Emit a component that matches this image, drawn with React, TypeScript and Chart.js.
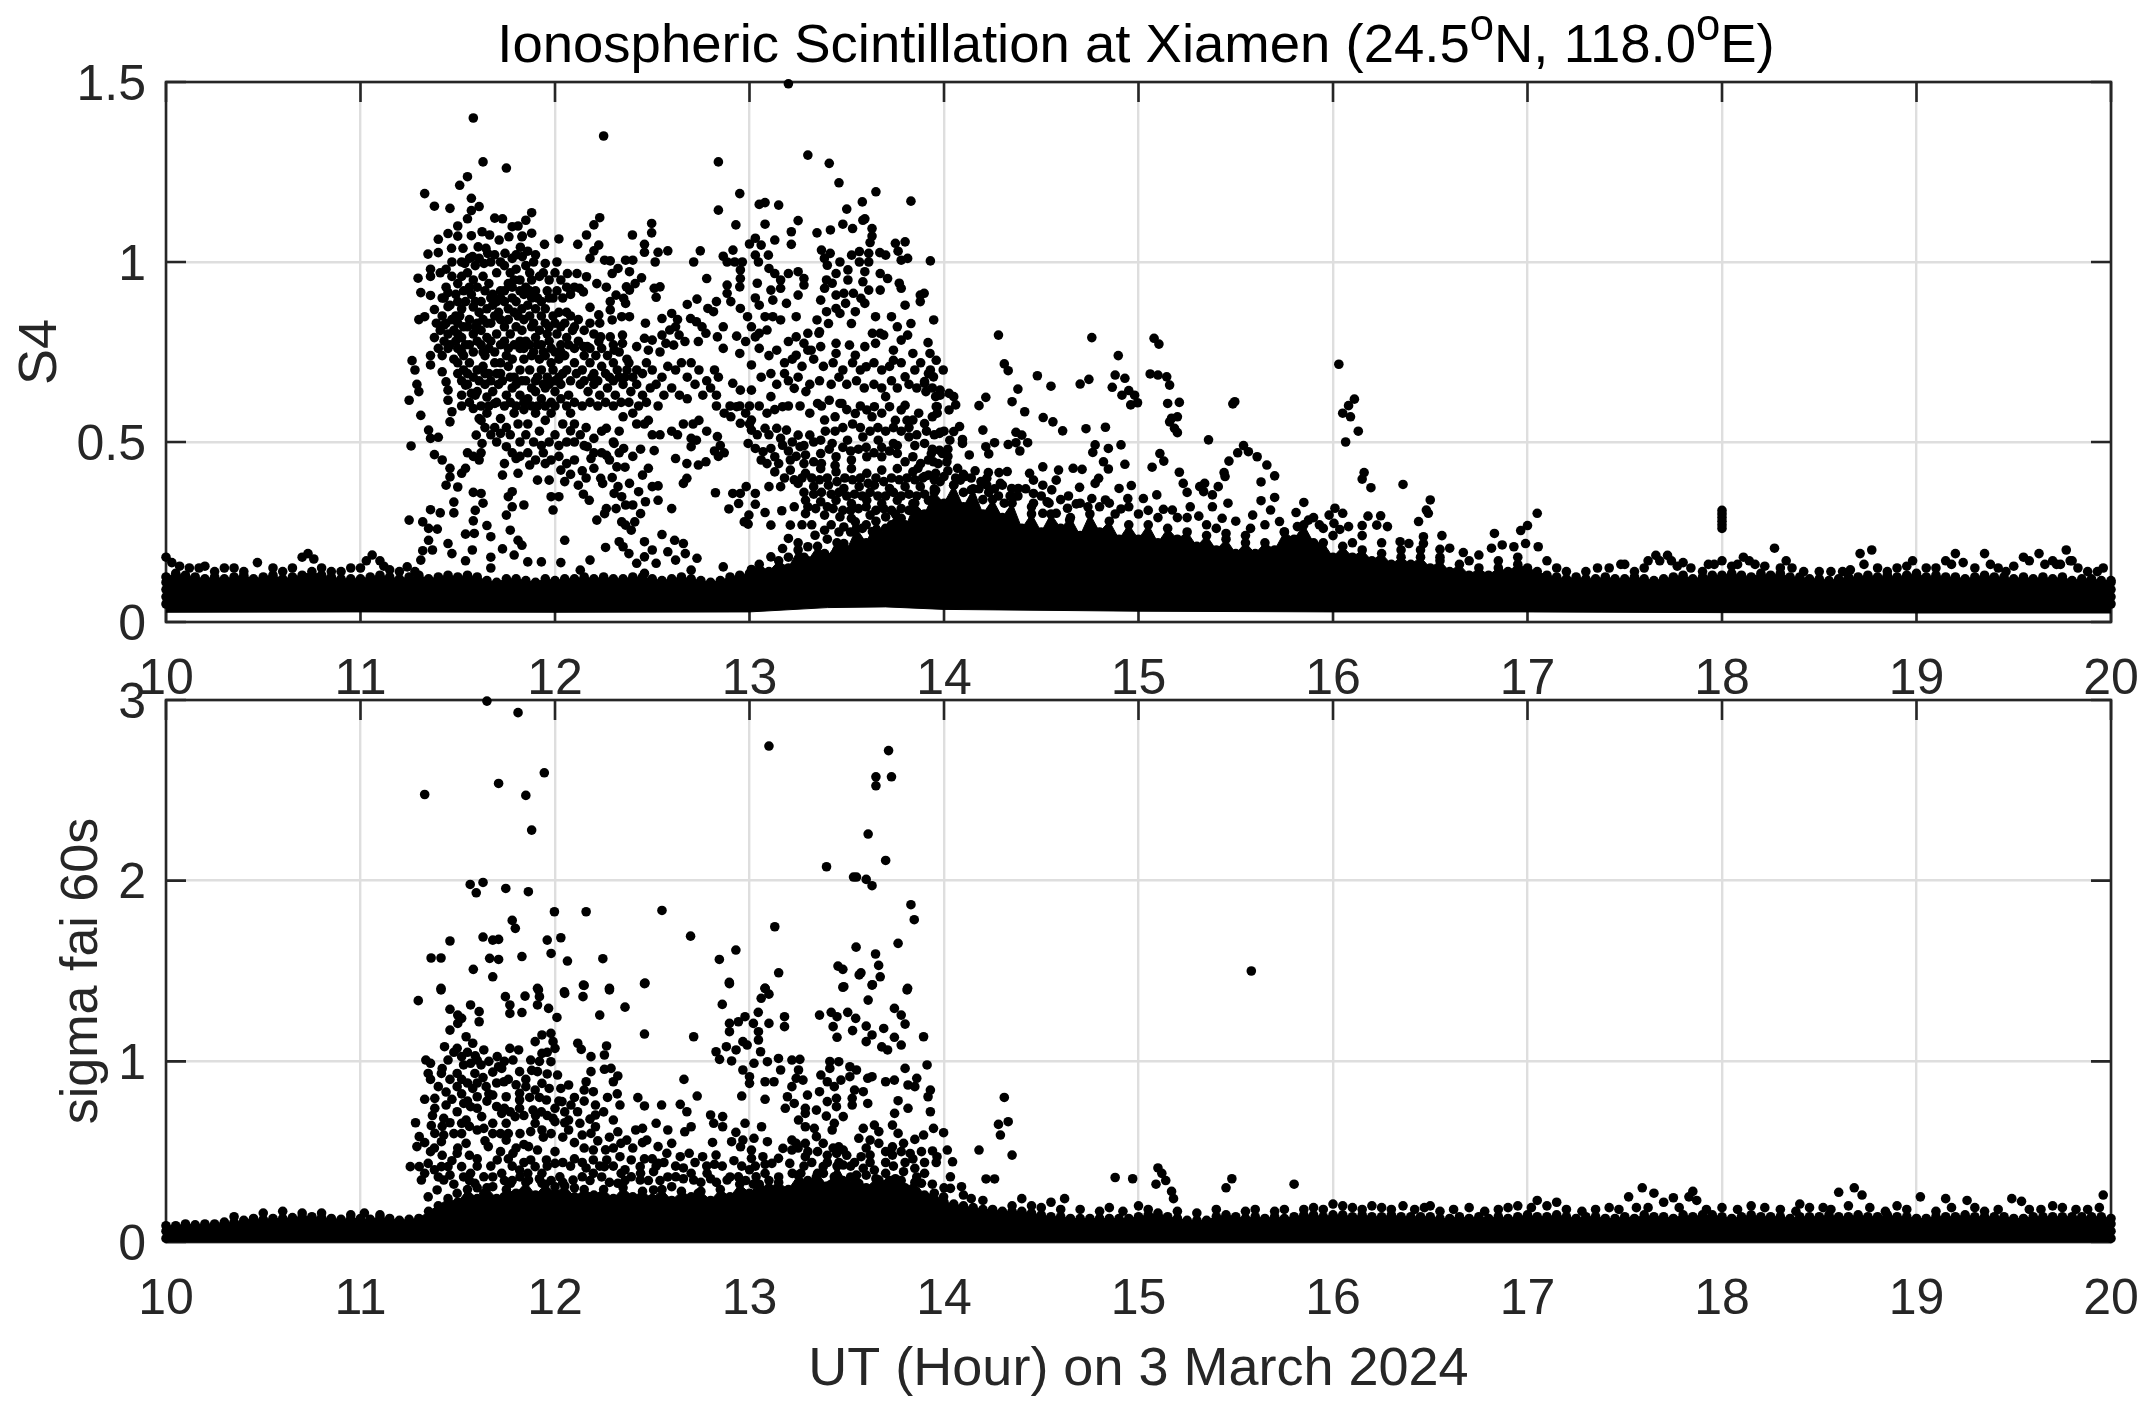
import React, { useEffect, useRef } from "react";
import { Chart, registerables } from "chart.js";

Chart.register(...registerables);

const TICK_HOURS = [10, 11, 12, 13, 14, 15, 16, 17, 18, 19, 20];

// grid of hours for the solid upper edge of the dense band
const bandHours = [
  10, 10.05, 10.1, 10.15, 10.2, 10.25, 10.3, 10.35, 10.4, 10.45, 10.5, 10.55, 10.6, 10.65, 10.7, 10.75, 10.8, 10.85, 10.9, 10.95,
  11, 11.05, 11.1, 11.15, 11.2, 11.25, 11.3, 11.35, 11.4, 11.45, 11.5, 11.55, 11.6, 11.65, 11.7, 11.75, 11.8, 11.85, 11.9, 11.95,
  12, 12.05, 12.1, 12.15, 12.2, 12.25, 12.3, 12.35, 12.4, 12.45, 12.5, 12.55, 12.6, 12.65, 12.7, 12.75, 12.8, 12.85, 12.9, 12.95,
  13, 13.05, 13.1, 13.15, 13.2, 13.25, 13.3, 13.35, 13.4, 13.45, 13.5, 13.55, 13.6, 13.65, 13.7, 13.75, 13.8, 13.85, 13.9, 13.95,
  14, 14.05, 14.1, 14.15, 14.2, 14.25, 14.3, 14.35, 14.4, 14.45, 14.5, 14.55, 14.6, 14.65, 14.7, 14.75, 14.8, 14.85, 14.9, 14.95,
  15, 15.05, 15.1, 15.15, 15.2, 15.25, 15.3, 15.35, 15.4, 15.45, 15.5, 15.55, 15.6, 15.65, 15.7, 15.75, 15.8, 15.85, 15.9, 15.95,
  16, 16.05, 16.1, 16.15, 16.2, 16.25, 16.3, 16.35, 16.4, 16.45, 16.5, 16.55, 16.6, 16.65, 16.7, 16.75, 16.8, 16.85, 16.9, 16.95,
  17, 17.05, 17.1, 17.15, 17.2, 17.25, 17.3, 17.35, 17.4, 17.45, 17.5, 17.55, 17.6, 17.65, 17.7, 17.75, 17.8, 17.85, 17.9, 17.95,
  18, 18.05, 18.1, 18.15, 18.2, 18.25, 18.3, 18.35, 18.4, 18.45, 18.5, 18.55, 18.6, 18.65, 18.7, 18.75, 18.8, 18.85, 18.9, 18.95,
  19, 19.05, 19.1, 19.15, 19.2, 19.25, 19.3, 19.35, 19.4, 19.45, 19.5, 19.55, 19.6, 19.65, 19.7, 19.75, 19.8, 19.85, 19.9, 19.95, 20,
];

const s4BandUpper = [
  .125,.135,.13,.125,.12,.125,.12,.125,.13,.12, .125,.13,.12,.125,.13,.14,.13,.125,.12,.12,
  .12,.125,.13,.125,.12,.125,.13,.12,.125,.13, .125,.13,.125,.115,.11,.12,.12,.115,.11,.12,
  .115,.12,.12,.125,.12,.125,.12,.12,.125,.125, .12,.115,.12,.125,.12,.115,.11,.115,.125,.13,
  .135,.16,.14,.17,.15,.2,.17,.21,.18,.22, .2,.26,.22,.28,.24,.3,.26,.33,.3,.36,
  .33,.38,.32,.37,.3,.34,.29,.33,.26,.3, .25,.3,.26,.29,.24,.3,.25,.28,.23,.27,
  .23,.27,.22,.26,.23,.25,.21,.24,.2,.23, .19,.22,.19,.22,.2,.25,.23,.27,.22,.22,
  .18,.21,.18,.2,.17,.19,.16,.18,.16,.18, .15,.17,.14,.16,.13,.15,.13,.15,.14,.16,
  .15,.14,.13,.125,.12,.125,.12,.12,.125,.12, .12,.125,.12,.115,.12,.125,.13,.12,.125,.13,
  .13,.135,.13,.125,.135,.13,.135,.125,.125,.12, .12,.115,.12,.125,.125,.13,.125,.13,.125,.13,
  .135,.125,.13,.125,.125,.12,.125,.13,.125,.125, .12,.125,.12,.125,.12,.125,.115,.12,.12,.115,.115,
];
const s4LowerHours = [10, 11, 12, 13, 13.4, 13.7, 14, 15, 16, 17, 18, 19, 20];
const s4BandLower = [.027, .028, .027, .028, .04, .042, .035, .03, .028, .028, .026, .025, .025];

const sigmaBandUpper = [
  .09,.09,.1,.095,.1,.1,.11,.11,.12,.13, .125,.13,.13,.135,.14,.14,.135,.13,.125,.13,
  .13,.125,.135,.13,.12,.125,.13,.17,.2,.24, .22,.29,.24,.3,.24,.29,.27,.33,.26,.32,
  .27,.31,.25,.29,.26,.29,.24,.3,.25,.28, .24,.29,.23,.28,.25,.28,.23,.29,.25,.32,
  .27,.32,.3,.33,.29,.37,.33,.38,.31,.42, .32,.37,.3,.35,.32,.35,.3,.33,.26,.27,
  .22,.21,.2,.19,.18,.18,.17,.17,.17,.16, .15,.14,.14,.13,.13,.13,.13,.13,.13,.13,
  .14,.15,.16,.14,.13,.12,.12,.12,.14,.15, .14,.13,.14,.13,.14,.13,.14,.15,.15,.14,
  .15,.15,.14,.15,.14,.14,.15,.14,.14,.14, .14,.13,.13,.14,.13,.14,.13,.14,.13,.14,
  .15,.14,.14,.15,.14,.13,.14,.14,.13,.13, .14,.13,.15,.14,.14,.13,.15,.14,.15,.15,
  .14,.13,.14,.15,.14,.14,.14,.13,.14,.14, .14,.15,.14,.14,.15,.14,.14,.15,.14,.14,
  .13,.13,.14,.14,.14,.15,.14,.14,.14,.14, .13,.13,.14,.14,.14,.14,.14,.14,.14,.14,.13,
];
const sigmaLowerHours = [10, 15, 20];
const sigmaBandLower = [0, 0, 0];

// S4 scatter values as hour,value pairs
const s4Edges = [10,.05,10,.07,10,.09,10,.11,20,.05,20,.07,20,.09,20,.11,
  10,.18,10.03,.165,10.07,.155,10.12,.15,10.17,.15,10.2,.155,10.35,.15,10.47,.165,10.7,.18,10.73,.19,10.76,.175,10.95,.15,11.03,.17,11.06,.186,11.1,.17,11.12,.155,11.24,.153,
  10.25,.14,10.3,.15,10.4,.14,10.55,.15,10.6,.14,10.65,.15,10.8,.15,10.85,.14,10.9,.14,11,.15,11.15,.145,11.2,.14,11.28,.14];
const s4Early = [11.33,1.19,11.38,1.155,11.46,1.149,11.4,1.063,11.45,1.079,11.5,1.1,11.5,1.072,11.347,1.022,11.4,1.026,11.468,1.038,11.527,1.038,
  11.296,.955,11.36,.98,11.36,.96,11.31,.915,11.36,.907,11.44,.93,11.45,.915,11.43,.9,11.38,.868,11.45,.876,11.3,.84,11.33,.848,
  11.265,.726,11.28,.7,11.29,.66,11.3,.64,11.25,.616,11.31,.574,11.35,.533,11.36,.51,11.4,.513,11.26,.489,11.38,.465,11.42,.45,11.46,.427,11.46,.403,11.44,.38,11.5,.375,11.58,.36,11.62,.357,11.63,.33,11.48,.333,11.48,.303,11.36,.312,11.41,.303,11.59,.31,11.25,.283,11.32,.278,11.35,.26,11.395,.258,11.58,.281,11.65,.268,11.54,.244,11.585,.246,11.67,.237,11.35,.227,11.32,.198,11.37,.2,11.45,.218,11.47,.19,11.54,.17,11.575,.2,11.67,.18,11.67,.15,11.31,.172,
  11.55,.47,11.58,.46,11.61,.45,11.62,.47,11.54,.427,11.52,.413,11.36,.714,11.42,.695,11.44,.667,11.45,.644,11.45,.616,11.54,.658,11.57,.635,11.52,.6,11.47,.584,11.46,.556,11.58,.593,11.61,.565,11.595,.519,11.625,.496,11.65,.625,11.69,.607,11.72,.565,11.72,.524,11.75,.487,11.74,.44,11.73,.408,
  11.38,.79,11.4,.76,11.36,.74,11.42,.74,11.45,.76,11.5,.76,11.48,.73,11.53,.74,11.56,.77,11.58,.75,11.62,.77,11.64,.74,11.66,.76,11.7,.8,11.72,.77,11.75,.74,11.77,.8,11.8,.82];
const s4Eleven = [11.55,1.237,11.51,1.213,11.57,1.177,11.61,1.154,11.57,1.143,11.55,1.12,11.88,1.137,11.69,1.122,11.73,1.12,11.85,1.116,11.81,1.1,11.78,1.098,11.88,1.08,11.83,1.07,
  11.58,1.4,11.63,1.278,11.75,1.261,11.57,1.073,11.625,1.084,11.664,1.075,11.713,1.061,11.763,1.07,11.832,1.072,11.605,1.042,11.645,1.038,11.576,1.015,11.536,.996,11.635,.996,11.654,1.024,11.743,1.024,11.822,1.041,11.832,1.015,11.89,1,11.95,.996,12.01,1,12.02,1.064,11.946,1.049,
  11.39,.83,11.41,.81,11.43,.825,11.45,.8,11.48,.81,11.5,.83,11.52,.79,11.55,.82,11.58,.8,11.6,.83,11.62,.81,11.65,.79,11.67,.83,11.49,.85,11.52,.87,11.54,.89,11.58,.875,11.61,.86,11.65,.87,11.68,.88,11.71,.86,11.74,.89,11.76,.87,11.78,.9,11.72,.92,11.76,.94,11.8,.89,11.83,.87,11.86,.88,11.88,.9,11.9,.87,11.93,.85,11.95,.87,11.97,.9,11.99,.85,12.02,.86,12.05,.83,12.08,.85,12.1,.82,11.47,.96,11.5,.94,11.53,.92,11.49,.91,11.52,.96,11.55,.97,11.58,.95,11.6,.93,11.63,.96,11.66,.94,11.68,.91,11.7,.97,11.74,.99,11.77,.97,11.8,.98,11.85,.99,11.87,.97,11.88,.95,11.92,.96,11.94,.97,11.97,.95,12,.97,12.03,.95,11.9,.92,11.85,.93,11.82,.95,
  11.83,.81,11.85,.78,11.88,.82,11.9,.79,11.93,.77,11.96,.8,11.98,.76,12.01,.8,12.03,.77,12.06,.79,11.82,.76,11.78,.73,11.72,.72,11.84,.73,11.88,.74,11.92,.73,11.95,.74,11.98,.72,12.02,.73,12.05,.74,12.1,.76,
  11.5,.72,11.53,.7,11.56,.72,11.6,.7,11.63,.71,11.66,.69,11.69,.72,11.72,.69,11.76,.71,11.79,.68,11.82,.7,11.85,.67,11.87,.7,11.9,.67,11.93,.7,11.96,.68,11.99,.7,
  11.55,.66,11.6,.64,11.64,.66,11.68,.64,11.71,.66,11.75,.63,11.78,.65,11.82,.63,11.86,.62,11.9,.64,11.93,.62,11.95,.65,11.98,.61,
  11.79,.58,11.81,.55,11.84,.59,11.86,.55,11.9,.58,11.92,.53,11.95,.56,11.98,.58,11.75,.54,11.62,.56,11.65,.58,11.69,.54,
  11.8,.454,11.81,.413,11.87,.436,11.95,.44,11.91,.394,11.97,.394,11.78,.362,11.76,.348,11.78,.32,11.84,.325,11.75,.297,11.77,.255,11.81,.227,11.83,.213,11.73,.203,11.79,.186,11.86,.167,11.93,.167,11.98,.348,11.99,.311];
const s4ElevenMore = [11.41,.97,11.44,.98,11.47,1,11.52,1,11.56,1.01,11.59,.99,11.61,1.01,11.67,1,11.69,1.02,11.72,1,11.78,1.01,11.8,1.02,11.86,1.03,11.9,1.02,
  11.42,.9,11.46,.88,11.5,.89,11.51,.85,11.56,.93,11.57,.91,11.59,.89,11.62,.89,11.64,.92,11.67,.9,11.7,.89,11.72,.9,11.74,.92,11.78,.93,11.79,.95,11.82,.92,11.84,.91,11.87,.92,11.91,.9,11.93,.89,11.96,.92,11.99,.9,12.01,.92,12.04,.9,12.06,.93,12.08,.91,12.1,.93,
  11.42,.85,11.44,.83,11.47,.84,11.5,.8,11.53,.82,11.56,.84,11.59,.82,11.63,.84,11.65,.83,11.69,.85,11.72,.84,11.74,.82,11.76,.84,11.79,.86,11.81,.85,11.84,.84,11.87,.85,11.89,.83,11.92,.81,11.95,.83,11.97,.82,12,.83,12.03,.82,12.06,.86,12.09,.81,12.12,.84,12.15,.81,12.18,.83,12.2,.8,
  11.43,.78,11.46,.77,11.49,.78,11.52,.75,11.54,.77,11.6,.78,11.63,.75,11.67,.78,11.69,.75,11.74,.78,11.76,.76,11.79,.77,11.82,.78,11.84,.76,11.87,.77,11.89,.75,11.91,.77,11.94,.75,11.97,.78,12,.75,12.03,.75,12.07,.77,12.12,.78,12.15,.74,12.18,.76,12.21,.74,12.24,.76,12.27,.74,12.3,.77,12.33,.75,12.37,.73,
  11.5,.69,11.52,.67,11.55,.69,11.58,.68,11.61,.67,11.64,.69,11.67,.67,11.7,.69,11.73,.67,11.77,.68,11.8,.66,11.83,.67,11.88,.65,11.91,.68,11.94,.66,11.97,.66,12,.67,12.04,.69,12.08,.67,12.11,.69,12.15,.67,12.19,.68,12.22,.67,12.26,.69,12.3,.67,12.33,.68,12.37,.7,12.4,.68,
  11.52,.63,11.56,.61,11.59,.63,11.62,.6,11.66,.6,11.7,.61,11.74,.6,11.77,.61,11.8,.6,11.84,.61,11.88,.6,11.91,.6,11.95,.6,12,.6,12.03,.62,12.06,.6,12.1,.61,12.14,.6,12.18,.61,12.22,.6,12.26,.61,12.3,.6,12.34,.61,12.38,.61,12.43,.6,12.47,.61,
  11.64,.54,11.67,.52,11.7,.5,11.77,.52,11.82,.5,11.85,.52,11.89,.5,11.93,.49,11.97,.5,12.02,.49,12.06,.5,12.1,.5,12.15,.49,12.2,.47,12.24,.47,12.28,.45,12.33,.47,12.36,.43,12.4,.46,12.44,.48,
  11.78,.47,11.82,.46,11.86,.47,11.9,.45,11.94,.47,11.98,.45,12.02,.46,12.06,.44,12.1,.45,12.14,.42,12.16,.4,12.12,.38,12.08,.41];
const s4Twelve = [12.25,1.35,12.117,1.049,12.162,1.075,12.2,1.103,12.23,1.123,12.225,1.047,12.2,1.031,12.18,1.01,12.255,1.005,12.284,1.003,12.363,1.005,12.4,1.005,12.398,1.075,12.497,1.107,12.497,1.081,12.46,1.049,12.46,1.027,12.53,1.027,12.58,1.031,12.515,1,12.324,.982,12.294,.968,12.383,.973,12.445,.956,12.412,.94,12.367,.931,12.383,.922,12.064,.968,12.113,.968,12.162,.959,12.215,.94,12.264,.93,12.127,.927,12.146,.917,12.54,.931,12.51,.927,12.52,.902,12.314,.908,12.284,.89,12.353,.899,12.363,.885,12.18,.874,12.225,.853,12.284,.867,12.23,.83,12.343,.848,12.294,.839,12.383,.848,12.465,.83,12.68,.882,12.73,.897,12.83,.89,12.786,.871,12.815,.862,12.55,.843,12.6,.857,12.63,.84,12.62,.82,12.59,.811,12.697,.843,12.727,.834,12.756,.82,12.776,.802,12.737,.779,12.638,.797,12.668,.779,12.55,.797,12.57,.774,12.61,.769,12.46,.788,12.5,.783,12.42,.765,12.48,.755,12.54,.75,12.347,.797,12.347,.774,12.304,.755,12.235,.792,12.284,.792,12.225,.779,12.146,.765,12.166,.765,
  12.02,.68,12.06,.7,12.1,.72,12.14,.7,12.18,.72,12.2,.69,12.24,.71,12.28,.68,12.3,.72,12.32,.7,12.36,.68,12.38,.72,12.42,.7,12.45,.69,12.47,.72,12.5,.7,12.52,.66,12.55,.68,12.58,.71,12.62,.7,12.65,.72,12.68,.68,12.7,.72,12.74,.7,12.78,.67,12.82,.7,12.84,.68,
  12,.64,12.03,.66,12.07,.63,12.13,.66,12.17,.64,12.2,.66,12.23,.63,12.27,.65,12.31,.63,12.35,.66,12.39,.64,12.42,.66,12.45,.63,12.49,.65,12.53,.6,12.56,.63,12.6,.65,12.64,.63,12.68,.62,12.72,.66,12.76,.63,12.8,.65,12.83,.63,
  12,.52,12.04,.55,12.08,.58,12.1,.55,12.08,.531,12.13,.52,12.16,.54,12.2,.51,12.24,.53,12.264,.538,12.3,.5,12.33,.53,12.35,.57,12.4,.58,12.42,.55,12.46,.55,12.48,.56,12.5,.52,12.54,.52,12.6,.53,12.63,.52,12.66,.55,12.7,.51,12.71,.55,12.74,.56,12.78,.53,12.83,.6,12.87,.58,12.9,.6,12.95,.6,12.98,.58,13,.6,13,.55,
  12.835,.515,12.85,.49,12.87,.47,12.84,.46,12.82,.475,12.727,.505,12.7,.487,12.62,.454,12.678,.44,12.737,.436,12.776,.445,12.678,.399,12.66,.385,12.51,.476,12.48,.427,12.45,.408,12.5,.376,12.53,.378,12.318,.431,12.265,.463,12.185,.454,12.2,.427,12.304,.496,12.353,.482,12.166,.487,12.235,.399,12.294,.401,12.245,.385,12.383,.385,12.324,.376,12.304,.357,12.343,.348,12.4,.325,12.363,.325,12.43,.362,12.465,.334,12.53,.338,12.6,.315,12.146,.355,12.176,.338,12.264,.315,12.314,.315,12.255,.301,12.215,.283,12.44,.301,12.41,.278,12.343,.278,12.392,.255,12.363,.269,
  12.03,.422,12.05,.39,12.02,.348,12.05,.227,12.03,.165,12.18,.172,12.13,.144,12.26,.207,12.33,.223,12.35,.209,12.38,.19,12.46,.223,12.55,.243,12.615,.227,12.66,.218,12.5,.2,12.46,.181,12.42,.163,12.46,.135,12.52,.163,12.58,.195,12.62,.172,12.67,.19,12.73,.177,12.7,.144,12.865,.153,
  12.84,1.278,12.95,1.19,12.84,1.144,12.93,1.103,12.915,1.033,12.865,1.016,12.747,1.031,12.713,1,12.885,1,12.924,1,12.963,1,12.953,.978,12.953,.954,12.95,.931,12.78,.954,12.885,.936,12.885,.913,12.904,.89,12.953,.871,12.99,.848,12.865,.82,12.835,.792,12.934,.794,12.98,.779,12.865,.76,12.95,.746,
  12.983,.376,12.914,.357,12.953,.357,12.944,.329,12.894,.314,12.997,.297,12.973,.278,12.993,.272,12.825,.359,12.953,.644,12.914,.663,12.934,.598,12.904,.57,12.953,.552,12.993,.496];
const s4Thirteen = [13.2,1.495,13.3,1.297,13.41,1.274,13.46,1.22,13.05,1.16,13.08,1.165,13.15,1.158,13.5,1.147,13.58,1.167,13.65,1.195,13.83,1.169,13.08,1.105,13.215,1.084,13.215,1.049,13.25,1.115,13.347,1.081,13.416,1.089,13.48,1.105,13.53,1.093,13.583,1.116,13.593,1.12,13.63,1.093,13.63,1.072,13.62,1.054,13.75,1.052,13.8,1.056,13.764,1.03,13.13,1.061,13.06,1.047,13,1.05,13.03,1.066,13.03,1.019,13.046,1,13.097,1.019,13.01,.82,13.03,.792,
  13.1,.982,13.13,.968,13.16,.95,13.16,.927,13.2,.968,13.25,.973,13.28,.954,13.28,.936,13.04,.941,13.03,.9,13.05,.88,13.11,.922,13.12,.894,13.19,.885,13.25,.908,13.08,.848,13.12,.848,13.16,.839,13.24,.848,13.09,.811,13.05,.802,13.24,.792,13.3,.802,13.36,.806,13.28,.774,13.3,.755,13.2,.779,13.14,.755,
  13.37,1.033,13.385,1.01,13.415,1.024,13.4,.991,13.465,1,13.525,1.019,13.565,1.029,13.565,1,13.613,1.024,13.613,1,13.67,1.026,13.7,1.019,13.78,1.005,13.813,1.01,13.93,1.003,
  13.506,.978,13.445,.968,13.506,.95,13.396,.95,13.425,.941,13.386,.927,13.593,.973,13.672,.968,13.71,.954,13.583,.945,13.613,.922,13.672,.922,13.77,.941,13.78,.927,13.445,.908,13.485,.913,13.534,.913,13.366,.894,13.396,.862,13.445,.871,13.494,.885,13.544,.862,13.593,.885,13.573,.899,13.465,.857,13.406,.829,13.347,.839,13.357,.802,13.524,.829,13.648,.848,13.73,.848,13.76,.82,13.83,.829,13.947,.839,13.8,.88,13.878,.908,13.898,.913,13.878,.89,13.648,.774,13.672,.802,13.69,.797,13.632,.802,13.78,.783,13.813,.797,13.918,.776,13.84,.746,13.928,.746,13.74,.755,13.593,.765,13.514,.769,13.544,.741,13.445,.774,13.445,.746,13.366,.765,13.317,.755,13.24,.741,
  13.01,.714,13.11,.69,13.18,.69,13.01,.644,13.11,.626,13.17,.598,13.23,.649,13.29,.64,13.35,.607,13.41,.616,13.475,.607,13.6,.709,13.74,.727,13.8,.681,13.9,.663,13.96,.727,13.7,.626,13.8,.602,13.98,.63,13.96,.598,13.92,.69,
  13.01,.561,13.01,.533,13.08,.538,13.14,.538,13.19,.533,13.25,.519,13.31,.519,13.386,.561,13.465,.607,13.544,.579,13.603,.589,13.642,.598,13.72,.598,13.78,.589,13.84,.561,13.9,.551,13.977,.524,
  13.03,.482,13.07,.473,13.11,.482,13.17,.491,13.26,.487,13.366,.505,13.425,.496,13.504,.505,13.583,.514,13.662,.505,13.74,.496,13.82,.514,13.9,.496,13.977,.477,
  13.06,.45,13.13,.459,13.21,.45,13.288,.464,13.366,.468,13.445,.459,13.524,.45,13.603,.459,13.68,.459,13.76,.468,13.84,.459,13.92,.45,
  13.13,.417,13.21,.422,13.288,.413,13.366,.426,13.445,.417,13.524,.426,13.603,.413,13.68,.422,13.76,.426,13.84,.417,13.92,.408,
  13.25,.385,13.33,.376,13.406,.38,13.485,.371,13.564,.376,13.642,.38,13.72,.371,13.8,.376,13.878,.376,13.957,.366,
  13.288,.338,13.366,.334,13.445,.338,13.524,.329,13.603,.338,13.68,.329,13.76,.338,13.84,.329,13.92,.338,
  13.23,.32,13.288,.301,13.386,.297,13.465,.292,13.524,.288,13.62,.297,13.7,.292,13.78,.288,13.9,.292,
  13.21,.269,13.2,.232,13.337,.241,13.386,.255,13.485,.264,13.544,.278,13.632,.251,13.67,.237,13.76,.237,13.3,.209,13.17,.204,13.11,.181,13.386,.19,13.485,.218,13.534,.19,13.603,.181,
  13.03,.357,13.03,.327,13.08,.304,13.166,.309,13.11,.269,13.1,.376,13.16,.376,13.01,.146,
  13.996,.7,13.946,.681,13.9,.668,13.907,.64,13.98,.644,13.957,.626,13.965,.598,13.965,.58,13.98,.527,13.935,.468,13.946,.445,13.992,.468,13.957,.413,13.866,.427,13.9,.404,13.95,.37];
const s4ThirteenMore = [13.05,.76,13.1,.74,13.18,.72,13.22,.73,13.27,.71,13.33,.73,13.38,.71,13.43,.72,13.48,.7,13.53,.72,13.57,.7,13.64,.72,13.68,.7,13.72,.71,13.78,.72,13.85,.7,13.88,.72,13.93,.7,
  13.06,.68,13.14,.66,13.2,.67,13.25,.68,13.31,.66,13.36,.67,13.42,.66,13.46,.68,13.5,.66,13.55,.67,13.59,.65,13.64,.66,13.68,.65,13.73,.67,13.76,.65,13.82,.66,13.86,.65,13.94,.65,
  13.05,.6,13.09,.58,13.13,.59,13.2,.6,13.26,.6,13.31,.58,13.37,.6,13.44,.57,13.5,.59,13.57,.6,13.63,.57,13.68,.58,13.75,.56,13.81,.56,13.87,.58,13.94,.57,
  13.04,.52,13.1,.52,13.16,.51,13.22,.5,13.28,.49,13.33,.5,13.39,.53,13.44,.53,13.48,.54,13.53,.55,13.57,.54,13.62,.53,13.66,.54,13.7,.53,13.74,.54,13.78,.53,13.82,.54,13.86,.52,13.91,.53,13.95,.52,14,.53,
  13.09,.44,13.15,.44,13.2,.475,13.24,.46,13.28,.44,13.33,.445,13.37,.44,13.41,.48,13.44,.435,13.48,.485,13.52,.475,13.56,.48,13.6,.485,13.64,.47,13.68,.485,13.72,.475,13.76,.49,13.8,.445,13.85,.49,13.88,.44,13.94,.48,13.97,.44,14.02,.48,
  13.18,.4,13.23,.395,13.27,.4,13.32,.4,13.36,.395,13.4,.4,13.45,.39,13.49,.4,13.53,.395,13.57,.4,13.61,.385,13.65,.4,13.69,.39,13.73,.4,13.77,.395,13.81,.4,13.85,.395,13.89,.4,13.95,.395,13.98,.39,
  13.28,.36,13.33,.355,13.37,.36,13.42,.355,13.46,.36,13.5,.35,13.54,.355,13.58,.35,13.62,.36,13.66,.35,13.7,.35,13.74,.36,13.78,.35,13.82,.355,13.86,.35,13.9,.355,13.94,.34,
  13.3,.32,13.34,.315,13.4,.32,13.43,.315,13.48,.31,13.52,.31,13.56,.315,13.6,.32,13.65,.31,13.69,.315,13.73,.31,13.78,.315,13.82,.31,13.86,.305,13.94,.31,
  13.27,.27,13.32,.27,13.42,.27,13.46,.25,13.52,.25,13.58,.26,13.6,.27,13.7,.26,13.73,.27,13.8,.27,13.85,.27,13.4,.23,13.45,.2,13.56,.22,13.62,.22,13.25,.22,13.2,.18,13.28,.18];
const s4Fourteen = [14.28,.797,14.76,.79,14.896,.74,14.31,.717,14.33,.698,14.48,.684,14.55,.655,14.7,.661,14.745,.674,14.88,.686,14.93,.677,14.865,.652,14.915,.63,14.95,.643,14.98,.63,14.995,.609,14.96,.603,14.38,.647,14.35,.612,14.215,.624,14.18,.601,14.415,.584,14.51,.568,14.56,.556,14.61,.531,14.73,.537,14.83,.541,
  14.026,.635,14.05,.626,14.06,.603,14.026,.589,14.2,.533,14.08,.543,14.05,.529,14.37,.527,14.4,.519,14.43,.498,14.37,.498,14.33,.493,14.26,.498,14.215,.487,14.23,.467,14.39,.475,14.095,.507,14.095,.496,14.03,.505,14.13,.464,14.777,.492,14.765,.471,14.845,.482,14.91,.492,14.82,.445,14.845,.425,14.93,.438,
  14.228,.415,14.283,.415,14.325,.418,14.22,.399,14.29,.385,14.348,.371,14.382,.371,14.36,.348,14.44,.413,14.46,.394,14.508,.38,14.508,.431,14.554,.367,14.589,.422,14.577,.394,14.664,.427,14.71,.424,14.697,.374,14.795,.399,14.777,.385,14.9,.371,14.963,.379,14.945,.343,14.83,.339,14.76,.343,14.68,.328,14.635,.316,14.53,.334,14.46,.357,14.45,.32,14.508,.302,14.577,.302,14.646,.283,14.91,.314,
  14.015,.445,14,.404,14.07,.427,14.107,.404,14.084,.394,14.14,.367,14.02,.46,14.16,.42,14.05,.38,14.19,.39,14.23,.36,14.1,.36,14.28,.35,14.2,.34,14.31,.33,
  14.02,.42,14.06,.4,14.1,.41,14.14,.4,14.18,.37,14.22,.38,14.26,.37,14.3,.38,14.34,.35,14.38,.35,14.42,.37,14.46,.33,14.5,.35,14.54,.33,14.6,.34,14.64,.35,14.7,.33,14.74,.32,14.8,.32,14.85,.33,14.88,.3,14.95,.32];
const s4Fifteen = [15.08,.788,15.105,.772,15.06,.689,15.1,.686,15.145,.681,15.16,.658,15.15,.607,15.21,.61,15.485,.606,15.495,.612,15.36,.506,15.17,.566,15.2,.57,15.16,.556,15.185,.538,15.2,.526,15.11,.468,15.13,.447,15.54,.49,15.51,.47,15.565,.473,15.61,.459,15.66,.436,15.7,.406,15.63,.389,15.465,.447,15.44,.415,15.445,.404,15.07,.43,15.21,.416,15.23,.385,15.25,.36,15.34,.385,15.315,.376,15.335,.362,15.41,.376,15.38,.353,15.46,.33,15.38,.32,15.7,.346,15.63,.337,15.85,.332,15.81,.304,15.98,.297,15.094,.353,15.025,.343,15.128,.313,15.266,.32,15.174,.311,15.31,.294,15.43,.288,15.587,.297,15.679,.311,15.725,.279,15.4,.26,15.45,.246,15.576,.26,15.817,.265,15.874,.283,15.93,.27,
  15,.3,15.05,.31,15.1,.29,15.2,.29,15.25,.29,15.35,.27,15.5,.28,15.55,.24,15.65,.27,15.75,.25,15.9,.29,15.95,.26];
const s4Sixteen = [16.03,.716,16.11,.619,16.08,.601,16.05,.58,16.09,.57,16.13,.53,16.065,.5,16.16,.415,16.15,.397,16.195,.373,16.36,.382,16.5,.339,16.48,.311,16.49,.302,16.44,.279,16.465,.237,16.465,.218,17.05,.302,17,.268,16.965,.254,16.83,.246,16.01,.316,16.05,.302,16.005,.274,16.035,.257,16.08,.265,16.18,.294,16.245,.295,16.15,.268,16.225,.269,16.28,.265,16.56,.24,16.6,.205,16.55,.202,16.345,.223,16.39,.218,16.67,.193,16.75,.186,16.815,.205,16.87,.214,16.93,.209,16.99,.218,17.055,.209,16.95,.18,
  16,.24,16.1,.22,16.15,.24,16.25,.22,16.35,.2,16.45,.2,16.55,.18,16.7,.17,16.85,.17,17.1,.17];
const s4Late = [18,.31,18,.3,18,.29,18,.28,18,.27,18,.26,18.27,.205,18.71,.19,18.77,.2,18.98,.17,19.2,.19,19.15,.17,19.35,.19,19.63,.19,19.77,.2,19.55,.18,17.66,.185,17.72,.185,17.8,.165,17.48,.16,17.93,.16,18.11,.18,18.33,.17,18,.17,19.8,.17,19.72,.16,
  17.15,.15,17.2,.14,17.3,.14,17.36,.15,17.42,.15,17.5,.16,17.55,.14,17.6,.15,17.62,.17,17.68,.17,17.74,.17,17.77,.155,17.84,.15,17.9,.14,17.96,.16,18.05,.155,18.08,.16,18.14,.17,18.17,.16,18.22,.155,18.3,.15,18.36,.15,18.42,.14,18.5,.14,18.56,.14,18.62,.14,18.66,.145,18.73,.16,18.8,.15,18.85,.14,18.9,.15,18.95,.155,19.05,.15,19.1,.15,19.18,.16,19.24,.165,19.3,.15,19.38,.16,19.42,.15,19.46,.14,19.5,.155,19.58,.17,19.66,.16,19.7,.17,19.74,.16,19.79,.17,19.83,.15,19.88,.14,19.93,.14,19.96,.15];

// sigma fai 60s scatter values as hour,value pairs
const sigmaEdges = [10,.02,10,.06,20,.02,20,.06,20,.1,
  10.35,.14,10.5,.16,10.6,.17,10.7,.16,10.8,.16,10.95,.15,11.02,.16,11.1,.15];
const sigmaTop = [11.65,2.994,11.81,2.93,13.1,2.745,13.715,2.72,13.65,2.575,13.73,2.575,13.65,2.525,11.33,2.477,11.71,2.538,11.85,2.472,11.945,2.597,11.88,2.28,13.61,2.258,13.7,2.112,13.396,2.077,13.535,2.02,13.55,2.02,13.6,2.007,13.63,1.972,11.564,1.979,11.63,1.99,11.595,1.933,11.747,1.957,11.863,1.939,11.997,1.828,12.16,1.828,12.55,1.835,13.83,1.867,13.847,1.784,11.78,1.78,11.796,1.736,13.13,1.745,12.697,1.693,11.46,1.666,11.63,1.688,11.68,1.671,11.71,1.675,11.96,1.671,12.03,1.684,13.764,1.653,13.548,1.632,13.648,1.594,12.93,1.616,12.845,1.564,11.363,1.572,11.414,1.572,11.664,1.57,11.71,1.564,11.83,1.58,11.98,1.597,12.064,1.555,12.246,1.568,13.664,1.531,13.455,1.527,13.48,1.509,13.15,1.49,13.573,1.49,13.564,1.478,13.672,1.468,11.58,1.509,11.68,1.468,12.463,1.433,12.896,1.437,13.632,1.424,13.485,1.413,12.146,1.422,11.414,1.404,11.91,1.404,12.28,1.404,13.08,1.404,13.813,1.404,12.048,1.385,15.58,1.5];
const sigmaLeft = [11.297,1.336,11.414,1.395,11.745,1.358,11.846,1.361,11.915,1.395,11.92,1.358,11.91,1.312,11.768,1.312,11.768,1.265,11.83,1.27,11.967,1.293,12.05,1.376,12.144,1.358,12.15,1.42,12.28,1.395,12.46,1.43,12.36,1.3,12.23,1.256,12.01,1.243,11.46,1.288,11.5,1.256,11.52,1.238,11.5,1.21,11.46,1.173,11.566,1.312,11.61,1.275,11.61,1.219,12.46,1.151,12.713,1.136,
  11.543,1.136,11.577,1.1,11.634,1.063,11.497,1.072,11.432,1.081,11.52,1.026,11.6,1.007,11.566,.989,11.45,1.007,11.336,1.007,11.36,.989,11.348,.933,11.416,.933,11.497,.933,11.497,.86,11.588,.933,11.577,.85,11.646,.86,11.703,1.026,11.768,1.072,11.813,1.063,11.784,1.007,11.726,.961,11.738,.887,11.818,.943,11.875,1.007,11.898,1.109,11.933,1.146,11.933,1.044,11.979,1.155,11.99,1.109,12,1.072,11.979,.998,11.91,.943,12.013,.924,11.933,.878,11.898,.841,11.818,.823,12.07,.869,12.117,1.1,12.135,1.066,12.265,1.085,12.185,1.026,12.254,1.035,12.15,.841,12.197,.832,12.16,.887,12.185,.943,12.254,.956,12.288,.961,12.323,.919,12.3,.887,
  11.33,.79,11.382,.795,11.382,.74,11.44,.758,11.497,.721,11.428,.684,11.283,.66,11.364,.644,11.382,.601,11.428,.592,11.416,.555,11.302,.583,11.29,.528,11.36,.5,11.348,.435,11.256,.417,11.302,.417,11.313,.343,11.416,.417,11.394,.288,11.348,.25,
  11.531,.767,11.566,.749,11.543,.675,11.52,.657,11.623,.694,11.6,.804,11.68,.813,11.749,.804,11.818,.786,11.956,.786,11.818,.74,11.887,.73,11.726,.712,11.795,.694,11.749,.657,11.68,.657,11.634,.629,11.898,.657,11.933,.62,11.875,.611,11.99,.684,
  12.036,.777,12.082,.758,12.116,.721,12.128,.657,12.07,.675,12.07,.62,12,.666,12.14,.592,12.208,.758,12.208,.703,12.208,.638,12.185,.601,12.3,.675,12.334,.758,12.426,.799,12.46,.753,12.548,.758,12.644,.762,12.678,.721,12.731,.808,12.663,.9,12.52,.657,12.58,.62,12.7,.638,12.667,.61,12.323,.61,12.415,.62,12.45,.629,12.369,.564,12.472,.564,12.53,.528,12.6,.546,12.339,.546,
  11.864,.528,11.91,.509,11.875,.454,11.898,.417,11.956,.454,12,.435,11.784,.491,11.749,.564,11.703,.454,11.657,.528,11.543,.546,11.497,.491,11.45,.417,11.52,.417,11.566,.38,11.634,.361,11.726,.38,11.818,.398,11.933,.38,12.025,.361,12,.306,11.933,.325,11.864,.343,11.772,.325,11.68,.306,11.588,.325,11.497,.269,11.428,.343,11.634,.269,11.738,.25,12.093,.343,12.14,.361,12.197,.38,12.266,.454,12.197,.509,12.197,.454,12.254,.417,12.334,.472,12.392,.454,12.438,.417,12.392,.361,12.323,.325,12.438,.343,12.507,.389,12.53,.435,12.575,.491,12.644,.472,12.69,.491,12.759,.472,12.828,.481,12.621,.361,12.713,.343,12.782,.38,12.885,.343,12.943,.361,12.507,.288,12.6,.306,12.736,.269];
const sigmaLeftMore = [11.42,.96,11.46,.9,11.53,.98,11.55,1.05,11.59,1.03,11.62,.98,11.66,1,11.68,.94,11.71,.97,11.74,1,11.48,1.05,11.52,.9,11.55,.88,11.6,.88,11.63,.91,11.66,.82,11.7,.88,11.76,.9,11.8,.87,11.85,.9,11.88,.95,11.92,1,11.96,1.05,11.96,.93,11.85,.86,11.87,.8,11.92,.8,11.97,.85,12.03,.85,12.02,.78,12.1,.8,12.15,.78,12.05,.72,12.18,.68,12.25,.72,12.27,.8,12.32,.82,
  11.36,.9,11.4,.86,11.44,.83,11.47,.79,11.52,.82,11.55,.78,11.6,.74,11.65,.78,11.7,.75,11.74,.74,11.77,.72,11.84,.7,11.9,.7,11.93,.72,11.96,.7,12,.74,12.05,.66,
  11.37,.7,11.42,.64,11.46,.66,11.48,.6,11.52,.6,11.56,.64,11.6,.62,11.64,.56,11.68,.6,11.72,.6,11.76,.6,11.82,.6,11.84,.54,11.8,.52,11.94,.58,11.98,.6,12.04,.58,12.1,.55,12.15,.52,12.22,.56,12.28,.58,12.3,.52,12.26,.51,12.4,.52,12.45,.55,
  11.33,.55,11.38,.52,11.42,.48,11.47,.45,11.5,.52,11.56,.48,11.6,.46,11.6,.42,11.67,.42,11.72,.5,11.76,.46,11.78,.42,11.84,.44,11.96,.42,12,.5,12.04,.44,12.08,.42,12.1,.46,12.14,.44,12.16,.41,12.23,.42,12.3,.42,12.36,.4,12.46,.46,12.5,.46,12.52,.42,12.56,.44,12.62,.42,12.66,.41,12.72,.44,12.78,.42,12.82,.43,12.86,.42,12.92,.45,12.96,.42,13,.4,13.03,.42,13.08,.43,
  11.33,.38,11.38,.4,11.4,.36,11.46,.37,11.48,.32,11.53,.36,11.56,.34,11.6,.3,11.68,.36,11.74,.34,11.78,.34,11.82,.36,11.86,.38,11.92,.35,11.98,.34,12.04,.33,12.1,.3,12.18,.34,12.24,.36,12.28,.33,12.34,.38,12.36,.34,12.44,.38,12.48,.34,12.54,.34,12.58,.36,12.66,.35,12.7,.38,12.75,.33,12.8,.35,12.83,.33,12.9,.36,12.98,.34,13.02,.32,13.1,.34,13.15,.36,13.22,.38,13.3,.34,13.38,.38,13.42,.32,13.48,.34,13.52,.36,13.6,.37,13.7,.38,13.72,.34,13.78,.34,13.86,.36,13.94,.32,14,.3,14.1,.26,14.14,.24,14.2,.23,
  13.25,.52,13.3,.5,13.35,.5,13.4,.48,13.43,.52,13.5,.48,13.54,.44,13.6,.52,13.7,.5,13.78,.5,13.84,.46,13.9,.44,13.96,.44,13.28,.42,13.32,.44,13.4,.44,13.46,.44,13.52,.42,13.62,.44,13.7,.44,13.74,.42,13.8,.44,13.9,.38];
const sigmaRight = [12.897,1.43,12.86,1.315,13.08,1.404,13.1,1.372,13.06,1.349,13.48,1.41,13.63,1.422,13.61,1.339,13.81,1.395,13.045,1.271,12.977,1.247,12.943,1.219,12.897,1.21,12.897,1.164,13.02,1.21,13.046,1.164,13.1,1.21,13.18,1.247,13.18,1.192,13.36,1.256,13.42,1.271,13.45,1.247,13.505,1.271,13.546,1.238,13.43,1.192,13.53,1.17,13.6,1.195,13.45,1.133,13.6,1.109,13.63,1.146,13.69,1.182,13.745,1.293,13.78,1.256,13.8,1.206,13.745,1.133,13.78,1.09,13.895,1.136,13.68,1.08,13.71,1.063,
  12.8,.703,12.862,.694,12.862,.638,12.816,.657,12.977,.657,13.062,.638,12.93,.607,12.908,.555,12.966,.564,12.954,.527,12.81,.551,13.023,.574,13.092,.555,13.01,.509,13.01,.463,13.069,.472,12.96,.808,13.08,.79,13.08,.887,13.126,.887,12.828,1.053,12.846,1.011,12.908,1.002,12.988,1.09,12.966,1.109,13.046,1.118,13.057,1.053,13.023,.989,12.966,.952,13,.915,13,.878,13.092,.998,13.149,1.016,12.881,1.081,12.931,1.063,
  13.16,.952,13.218,1.007,13.259,1.011,13.252,.952,13.24,.906,13.275,.896,13.218,.86,13.298,.813,13.195,.804,13.23,.767,13.184,.74,13.287,.74,13.287,.712,13.344,.73,13.395,.697,13.252,.675,13.287,.638,13.333,.629,13.36,.832,13.4,.777,13.447,.795,13.447,.749,13.413,.999,13.459,.998,13.413,.961,13.367,.924,13.4,.887,13.436,.86,13.516,.97,13.55,.952,13.516,.915,13.47,.896,13.608,.906,13.63,.915,13.7,.887,13.745,.896,13.815,.869,13.85,.86,13.8,.961,13.86,.906,13.913,.98,
  13.54,.841,13.585,.832,13.528,.795,13.528,.758,13.608,.767,13.93,.841,13.918,.804,13.764,.782,13.815,.74,13.93,.721,13.746,.712,13.482,.694,13.436,.657,13.425,.62,13.585,.629,13.642,.647,13.665,.611,13.562,.574,13.62,.564,13.665,.546,13.735,.647,13.764,.601,13.85,.568,13.895,.592,13.946,.629,13.998,.605,
  13.344,.583,13.287,.546,13.24,.546,13.218,.564,13.379,.546,13.459,.527,13.482,.509,13.448,.49,13.735,.527,13.792,.546,13.735,.481,13.826,.49,13.884,.5,13.941,.504,14.017,.509,13.964,.472,14.044,.444,13.574,.472,13.62,.481,13.585,.408,13.642,.398,
  13.85,.408,13.884,.325,13.792,.389,14.033,.361,14.033,.297,14.09,.306,13.482,.426,13.379,.417,13.287,.472,13.218,.509,13.172,.518,13.149,.463,13.115,.435,13.207,.435,13.264,.38,13.344,.361,13.436,.361,13.562,.324,13.665,.343,13.746,.324,13.815,.278,13.93,.241,13.998,.25,13.034,.361,13.08,.38];
const sigmaLate = [14.31,.8,14.28,.651,14.33,.666,14.29,.592,14.35,.481,14.18,.509,14.216,.349,14.26,.349,14.88,.357,14.97,.35,15.1,.41,15.12,.38,15.14,.34,15.09,.32,15.17,.28,15.18,.24,15.48,.35,15.45,.3,15.8,.32,14.55,.22,14.62,.24,14.4,.24,17.59,.3,17.52,.25,17.65,.27,17.75,.245,17.7,.22,17.85,.28,17.83,.25,17.87,.23,18.6,.275,18.68,.3,18.72,.26,19.02,.25,19.26,.23,19.15,.24,19.49,.24,19.54,.225,19.96,.26,17.05,.23,17.15,.22,16.95,.2,16.5,.2,16.2,.2,16,.21,18.9,.2,18.4,.21,19.7,.2,
  14.35,.2,14.45,.2,14.5,.19,14.6,.18,14.7,.18,14.8,.17,14.85,.19,14.92,.17,15,.2,15.05,.18,15.2,.17,15.3,.16,15.4,.18,15.55,.17,15.6,.18,15.7,.17,15.75,.18,15.85,.18,15.9,.19,15.95,.18,16.05,.2,16.1,.19,16.15,.18,16.25,.19,16.3,.18,16.36,.2,16.42,.18,16.47,.19,16.55,.17,16.62,.18,16.7,.19,16.78,.17,16.85,.18,16.9,.19,17.02,.19,17.1,.2,17.2,.18,17.28,.17,17.35,.18,17.42,.19,17.47,.18,17.56,.19,17.62,.19,17.78,.19,17.92,.18,18,.19,18.08,.18,18.15,.2,18.22,.19,18.3,.18,18.38,.17,18.45,.19,18.52,.19,18.56,.18,18.65,.2,18.76,.19,18.84,.17,18.95,.18,19.1,.17,19.18,.19,19.3,.19,19.35,.17,19.42,.18,19.58,.18,19.64,.18,19.75,.19,19.82,.18,19.88,.18,19.94,.19];

const s4Scatter = [...s4Edges, ...s4Early, ...s4Eleven, ...s4ElevenMore, ...s4Twelve, ...s4Thirteen, ...s4ThirteenMore, ...s4Fourteen, ...s4Fifteen, ...s4Sixteen, ...s4Late];
const sigmaScatter = [...sigmaEdges, ...sigmaTop, ...sigmaLeft, ...sigmaLeftMore, ...sigmaRight, ...sigmaLate];

const FONT = '"Liberation Sans", Arial, sans-serif';
const INK = "#262626";
const DOT = 4.8;

function fromPairs(flat: number[]) {
  const out: { x: number; y: number }[] = [];
  for (let i = 0; i + 1 < flat.length; i += 2) out.push({ x: flat[i], y: flat[i + 1] });
  return out;
}
function zipXY(xs: number[], ys: number[]) {
  return xs.map((x, i) => ({ x, y: ys[i] }));
}

const frame = {
  id: "frame",
  beforeDatasetsDraw(chart: any) {
    const { ctx, chartArea: a, scales } = chart;
    ctx.save();
    ctx.strokeStyle = INK;
    ctx.lineWidth = 2.6;
    ctx.strokeRect(a.left, a.top, a.right - a.left, a.bottom - a.top);
    ctx.beginPath();
    const len = 20;
    for (const t of scales.x.ticks) {
      const p = scales.x.getPixelForValue(t.value);
      ctx.moveTo(p, a.top);
      ctx.lineTo(p, a.top + len);
      ctx.moveTo(p, a.bottom);
      ctx.lineTo(p, a.bottom - len);
    }
    for (const t of scales.y.ticks) {
      const p = scales.y.getPixelForValue(t.value);
      ctx.moveTo(a.left, p);
      ctx.lineTo(a.left + len, p);
      ctx.moveTo(a.right, p);
      ctx.lineTo(a.right - len, p);
    }
    ctx.stroke();
    ctx.restore();
  },
};

function zeroPad(s: any) {
  s.paddingLeft = 0;
  s.paddingRight = 0;
  s.paddingTop = 0;
  s.paddingBottom = 0;
}

function panelConfig(p: {
  upper: number[]; lowerX: number[]; lower: number[]; scatter: number[];
  yMax: number; yStep: number; yTitle: string; yTitleSize: number; yTitlePad: number;
  padTop: number; bottomH: number; xTitle?: string;
}) {
  return {
    type: "line",
    plugins: [frame],
    data: {
      datasets: [
        { data: zipXY(bandHours, p.upper), borderColor: "#000", borderWidth: 1, backgroundColor: "#000", pointBackgroundColor: "#000", pointBorderWidth: 0, pointRadius: DOT, fill: "+1", clip: false, tension: 0 },
        { data: zipXY(p.lowerX, p.lower), borderColor: "#000", borderWidth: 1, pointRadius: 0, fill: false, clip: false, tension: 0 },
        { data: fromPairs(p.scatter), showLine: false, pointBackgroundColor: "#000", pointBorderWidth: 0, pointRadius: DOT, clip: false },
      ],
    },
    options: {
      animation: false,
      responsive: false,
      events: [],
      layout: { padding: { top: p.padTop, left: 0, right: 41, bottom: 0 } },
      plugins: { legend: { display: false }, title: { display: false }, tooltip: { enabled: false } },
      scales: {
        x: {
          type: "linear", min: 10, max: 20,
          afterBuildTicks: (s: any) => { s.ticks = TICK_HOURS.map((value) => ({ value })); },
          afterFit: (s: any) => { s.height = p.bottomH; zeroPad(s); },
          grid: { color: "#dedede", lineWidth: 2.4, drawTicks: false },
          border: { display: false },
          ticks: { color: INK, font: { family: FONT, size: 50 }, padding: 28, maxRotation: 0, autoSkip: false, callback: (v: any) => String(v) },
          title: p.xTitle ? { display: true, text: p.xTitle, color: INK, font: { family: FONT, size: 54 }, padding: { top: 2, bottom: 2 } } : { display: false },
        },
        y: {
          type: "linear", min: 0, max: p.yMax,
          ticks: { stepSize: p.yStep, color: INK, font: { family: FONT, size: 50 }, padding: 20, labelOffset: 4, callback: (v: any) => String(v) },
          afterFit: (s: any) => { s.width = 166; zeroPad(s); },
          grid: { color: "#dedede", lineWidth: 2.4, drawTicks: false },
          border: { display: false },
          title: { display: true, text: p.yTitle, color: INK, font: { family: FONT, size: p.yTitleSize }, padding: { top: p.yTitlePad, bottom: 0 } },
        },
      },
    },
  } as any;
}

export default function App() {
  const topRef = useRef<HTMLCanvasElement>(null);
  const botRef = useRef<HTMLCanvasElement>(null);
  useEffect(() => {
    const a = new Chart(topRef.current!, panelConfig({
      upper: s4BandUpper, lowerX: s4LowerHours, lower: s4BandLower, scatter: s4Scatter,
      yMax: 1.5, yStep: 0.5, yTitle: "S4", yTitleSize: 54, yTitlePad: 9, padTop: 82, bottomH: 98,
    }));
    const b = new Chart(botRef.current!, panelConfig({
      upper: sigmaBandUpper, lowerX: sigmaLowerHours, lower: sigmaBandLower, scatter: sigmaScatter,
      yMax: 3, yStep: 1, yTitle: "sigma fai 60s", yTitleSize: 52, yTitlePad: 51, padTop: 20, bottomH: 163, xTitle: "UT (Hour) on 3 March 2024",
    }));
    return () => { a.destroy(); b.destroy(); };
  }, []);
  const sup = { fontSize: "0.8em", lineHeight: 0, verticalAlign: "0.5em" } as const;
  return (
    <div>
      <canvas ref={topRef} width={2152} height={720} style={{ position: "absolute", left: 0, top: 0, width: 2152, height: 720 }} />
      <canvas ref={botRef} width={2152} height={725} style={{ position: "absolute", left: 0, top: 680, width: 2152, height: 725 }} />
      <div style={{ position: "absolute", left: 1136, top: 44, transform: "translate(-50%, -50%)", whiteSpace: "nowrap", font: `54.5px ${FONT}`, color: "#000", lineHeight: 1 }}>
        Ionospheric Scintillation at Xiamen (24.5<sup style={sup}>o</sup>N, 118.0<sup style={sup}>o</sup>E)
      </div>
    </div>
  );
}
